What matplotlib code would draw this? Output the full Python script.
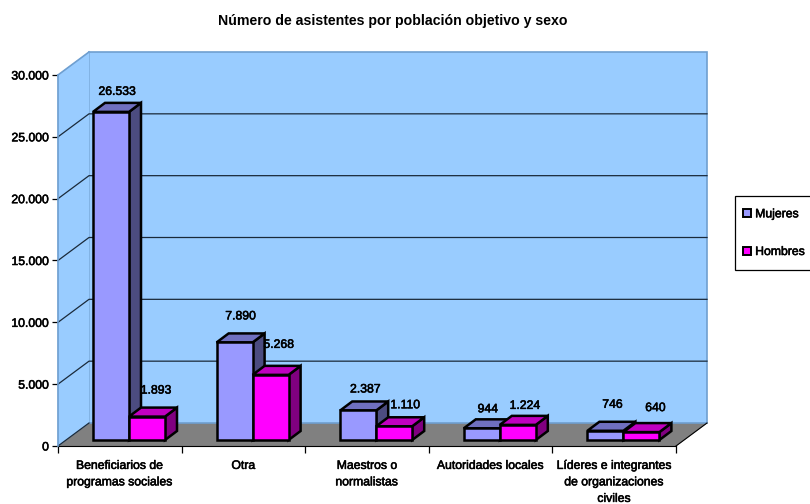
import matplotlib
matplotlib.use('Agg')
import matplotlib.pyplot as plt
import matplotlib.patheffects as pe
from matplotlib.patches import Polygon, Rectangle
from matplotlib.text import Text

# data
categorias = ['Beneficiarios de\nprogramas sociales', 'Otra', 'Maestros o\nnormalistas',
              'Autoridades locales', 'Líderes e integrantes\nde organizaciones\nciviles']
mujeres = [26533, 7890, 2387, 944, 746]
hombres = [1893, 5268, 1110, 1224, 640]
ticks_y = [0, 5000, 10000, 15000, 20000, 25000, 30000]
etiquetas_y = ['0', '5.000', '10.000', '15.000', '20.000', '25.000', '30.000']
series = ['Mujeres', 'Hombres']

# label nudges in pixels (x, up), one pair per bar
nudge_m = [(0, 11), (0, 17), (1, 12), (0, 10), (1, 17)]
nudge_h = [(3, 17), (2, 21), (5, 12), (1, 10), (8, 15)]

# 3d look, all in axis units
PX_X = 1 / 123.6
PX_Y = 30000 / 371
wall_dx, wall_dy = 31 * PX_X, 23 * PX_Y
bar_dx, bar_dy = 12 * PX_X, 9 * PX_Y
bar_w = 36 * PX_X
bar_start = 35 * PX_X
bar_base = 6 * PX_Y
WALL = '#99ccff'
BORDE = '#6f9fd0'

def fmt(v):
    return f'{v:,}'.replace(',', '.')

def caja(ax, x, v, front, top, side):
    y0 = bar_base
    y1 = bar_base + v
    kw = dict(edgecolor='black', linewidth=1.8, joinstyle='miter', zorder=5)
    ax.add_patch(Polygon([(x + bar_w, y0), (x + bar_w + bar_dx, y0 + bar_dy),
                          (x + bar_w + bar_dx, y1 + bar_dy), (x + bar_w, y1)], facecolor=side, **kw))
    ax.add_patch(Polygon([(x, y1), (x + bar_dx, y1 + bar_dy),
                          (x + bar_w + bar_dx, y1 + bar_dy), (x + bar_w, y1)], facecolor=top, **kw))
    ax.add_patch(Polygon([(x, y0), (x + bar_w, y0), (x + bar_w, y1), (x, y1)], facecolor=front, **kw))

plt.rcParams['font.family'] = ['Liberation Sans Narrow', 'Liberation Sans']

fig = plt.figure(figsize=(8.1, 5.04), dpi=100)
ax = fig.add_axes([58 / 810, 1 - 446 / 504, 618 / 810, 371 / 504])
ax.set_xlim(0, 5)
ax.set_ylim(0, 30000)
ax.patch.set_visible(False)

n = len(categorias)
# walls and floor
ax.add_patch(Polygon([(0, 0), (n, 0), (n + wall_dx, wall_dy), (wall_dx, wall_dy)],
                     facecolor='#808080', edgecolor='#808080', lw=0.5, clip_on=False, zorder=1))
ax.add_patch(Polygon([(wall_dx, wall_dy), (n + wall_dx, wall_dy), (n + wall_dx, 30000 + wall_dy),
                      (wall_dx, 30000 + wall_dy)], facecolor=WALL, edgecolor=BORDE, lw=1.2,
                     clip_on=False, zorder=1))
ax.add_patch(Polygon([(0, 0), (wall_dx, wall_dy), (wall_dx, 30000 + wall_dy), (0, 30000)],
                     facecolor=WALL, edgecolor=WALL, lw=0.5, clip_on=False, zorder=1))
ax.plot([0, wall_dx], [30000, 30000 + wall_dy], color=BORDE, lw=1.2, clip_on=False, zorder=2)

# gridlines go along the back wall and down the side wall
for t in ticks_y[1:-1]:
    ax.plot([0, wall_dx, n + wall_dx], [t, t + wall_dy, t + wall_dy], color='#1a2a3a', lw=0.9,
            clip_on=False, zorder=2)
ax.plot([0, wall_dx], [0, wall_dy], color='#1a2a3a', lw=0.9, clip_on=False, zorder=2)
ax.plot([n, n + wall_dx], [0, wall_dy], color='black', lw=0.8, clip_on=False, zorder=2)

for i in range(n):
    x0 = i + bar_start
    caja(ax, x0, mujeres[i], '#9999ff', '#7070c0', '#4c4c80')
    caja(ax, x0 + bar_w, hombres[i], '#ff00ff', '#c000c0', '#800080')
    for x, v, nd in [(x0, mujeres[i], nudge_m[i]), (x0 + bar_w, hombres[i], nudge_h[i])]:
        ax.annotate(fmt(v), (x + bar_w / 2 + bar_dx / 2, bar_base + v + bar_dy), xytext=nd,
                    textcoords='offset pixels', ha='center', va='center', fontsize=8.8,
                    zorder=6, annotation_clip=False)

ax.set_yticks(ticks_y)
ax.set_yticklabels(etiquetas_y, fontsize=8.8)
ax.set_xticks(range(n + 1))
ax.set_xticklabels([''] * (n + 1))
ax.set_xticks([i + 0.5 for i in range(n)], minor=True)
ax.set_xticklabels(categorias, minor=True, fontsize=8.8, linespacing=1.5)
ax.tick_params(axis='x', which='minor', length=0, pad=10)
ax.tick_params(axis='x', which='major', length=5, width=0.9)
ax.tick_params(axis='y', which='major', length=4.3, width=0.9, pad=2.2)
ax.spines['top'].set_visible(False)
ax.spines['right'].set_visible(False)
ax.spines['left'].set_color(BORDE)
ax.spines['left'].set_linewidth(1.2)
ax.spines['left'].set_zorder(3)

# legend box runs off the right edge of the picture
fig.add_artist(Rectangle((735 / 810, 1 - 270 / 504), 80 / 810, 74 / 504, transform=fig.transFigure,
                         facecolor='white', edgecolor='black', lw=0.9))
handles = [plt.Line2D([], [], ls='', marker='s', ms=5.6, mfc=c, mec='black', mew=1.4)
           for c in ['#9999ff', '#ff00ff']]
leg = fig.legend(handles, series, loc='lower left', bbox_to_anchor=(741 / 810, 1 - 258 / 504),
                 borderaxespad=0, borderpad=0, labelspacing=2.1, handletextpad=0.16, handlelength=1,
                 frameon=False, fontsize=8.8)
leg.set_zorder(10)

# the narrow regular face is too light on its own, thicken it a bit
for t in fig.findobj(Text):
    t.set_path_effects([pe.withStroke(linewidth=0.4, foreground='black')])

fig.text(393 / 810, 1 - 21 / 504, 'Número de asistentes por población objetivo y sexo', ha='center',
         va='center', fontsize=10.2, fontfamily='Liberation Sans', fontweight='bold')

fig.savefig('out.png', dpi=100)
